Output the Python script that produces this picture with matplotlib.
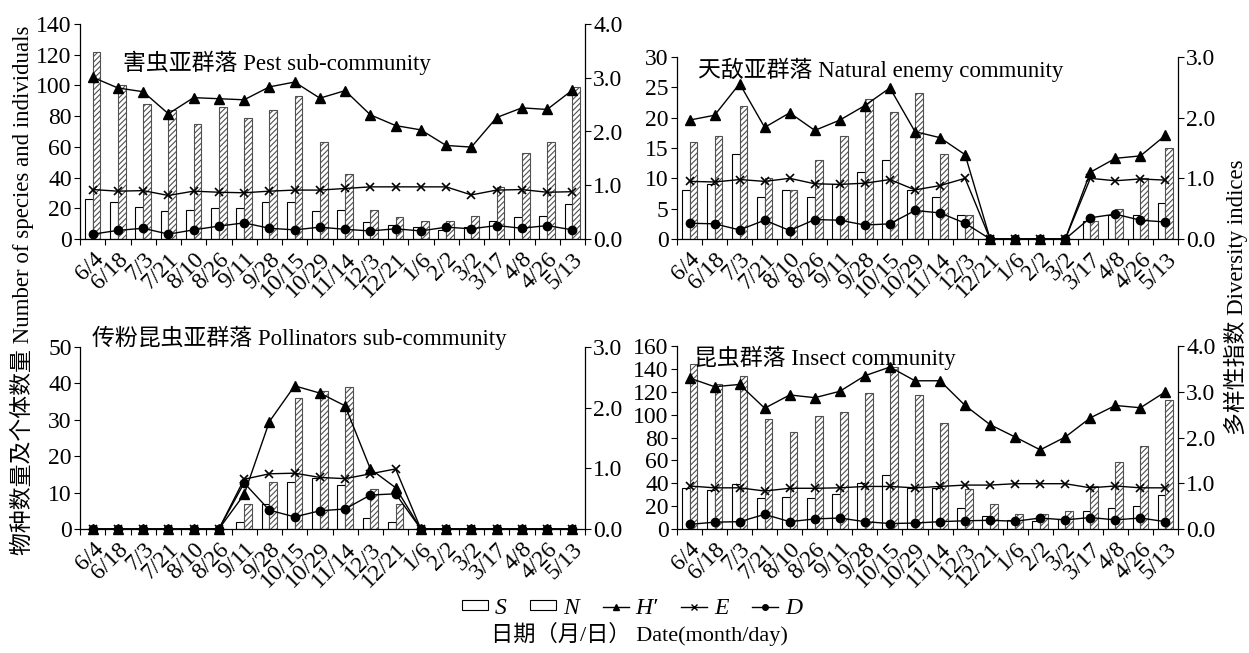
import matplotlib
matplotlib.use("Agg")
import matplotlib.pyplot as plt
import numpy as np
from matplotlib.patches import Patch
from matplotlib.lines import Line2D

plt.rcParams['font.family'] = ['Liberation Serif', 'Noto Sans CJK SC']
plt.rcParams['hatch.linewidth'] = 0.8
plt.rcParams['axes.unicode_minus'] = False

dates = ['6/4', '6/18', '7/3', '7/21', '8/10', '8/26', '9/11', '9/28', '10/15', '10/29',
         '11/14', '12/3', '12/21', '1/6', '2/2', '3/2', '3/17', '4/8', '4/26', '5/13']

pest_S = [26, 24, 21, 18, 19, 20, 20, 24, 24, 18, 19, 11, 9, 8, 6, 8, 12, 14, 15, 23]
pest_N = [122, 100, 88, 84, 75, 86, 79, 84, 93, 63, 42, 19, 14, 12, 12, 15, 34, 56, 63, 99]
pest_H = [3.01, 2.81, 2.74, 2.33, 2.63, 2.61, 2.59, 2.83, 2.92, 2.62, 2.76, 2.31, 2.11, 2.03, 1.74, 1.71, 2.26, 2.44, 2.41, 2.77]
pest_E = [0.92, 0.89, 0.90, 0.81, 0.89, 0.87, 0.86, 0.89, 0.91, 0.91, 0.94, 0.97, 0.97, 0.97, 0.97, 0.82, 0.91, 0.92, 0.87, 0.88]
pest_D = [0.09, 0.16, 0.20, 0.09, 0.17, 0.24, 0.30, 0.20, 0.17, 0.22, 0.18, 0.15, 0.19, 0.15, 0.22, 0.19, 0.25, 0.20, 0.25, 0.17]

ne_S = [8, 9, 14, 7, 8, 7, 9, 11, 13, 8, 7, 4, 0, 0, 0, 0, 3, 4, 4, 6]
ne_N = [16, 17, 22, 10, 8, 13, 17, 23, 21, 24, 14, 4, 0, 0, 0, 0, 3, 5, 10, 15]
ne_H = [1.96, 2.04, 2.56, 1.84, 2.08, 1.79, 1.96, 2.20, 2.49, 1.77, 1.67, 1.39, 0, 0, 0, 0, 1.10, 1.33, 1.37, 1.71]
ne_E = [0.95, 0.94, 0.98, 0.95, 1.00, 0.91, 0.90, 0.92, 0.98, 0.81, 0.88, 1.00, 0, 0, 0, 0, 1.00, 0.96, 0.99, 0.97]
ne_D = [0.26, 0.25, 0.15, 0.31, 0.14, 0.32, 0.31, 0.23, 0.25, 0.47, 0.43, 0.26, 0, 0, 0, 0, 0.35, 0.41, 0.31, 0.28]

po_S = [0, 0, 0, 0, 0, 0, 2, 7, 13, 14, 12, 3, 2, 0, 0, 0, 0, 0, 0, 0]
po_N = [0, 0, 0, 0, 0, 0, 7, 13, 36, 38, 39, 11, 7, 0, 0, 0, 0, 0, 0, 0]
po_H = [0, 0, 0, 0, 0, 0, 0.57, 1.77, 2.36, 2.24, 2.03, 0.99, 0.68, 0, 0, 0, 0, 0, 0, 0]
po_E = [0, 0, 0, 0, 0, 0, 0.82, 0.91, 0.92, 0.85, 0.83, 0.91, 0.99, 0, 0, 0, 0, 0, 0, 0]
po_D = [0, 0, 0, 0, 0, 0, 0.76, 0.31, 0.20, 0.30, 0.33, 0.56, 0.58, 0, 0, 0, 0, 0, 0, 0]

in_S = [36, 34, 39, 27, 28, 27, 31, 40, 47, 36, 36, 18, 11, 8, 7, 9, 16, 18, 20, 30]
in_N = [144, 127, 134, 96, 85, 99, 102, 119, 142, 117, 93, 35, 22, 13, 13, 16, 38, 59, 73, 113]
in_H = [3.30, 3.11, 3.16, 2.64, 2.93, 2.87, 3.01, 3.35, 3.54, 3.24, 3.24, 2.70, 2.28, 2.01, 1.73, 2.01, 2.43, 2.70, 2.65, 3.00]
in_E = [0.94, 0.90, 0.90, 0.83, 0.89, 0.89, 0.90, 0.93, 0.93, 0.90, 0.93, 0.96, 0.96, 0.99, 0.99, 0.99, 0.90, 0.94, 0.90, 0.90]
in_D = [0.10, 0.15, 0.16, 0.32, 0.16, 0.22, 0.24, 0.16, 0.12, 0.13, 0.16, 0.18, 0.19, 0.17, 0.24, 0.20, 0.25, 0.20, 0.24, 0.16]

W, H = 1249, 653
fig = plt.figure(figsize=(W / 100, H / 100), dpi=100)

def rect(l, r, t, b):
    return [l / W, 1 - b / H, (r - l) / W, (b - t) / H]

YTICK_FS = 17
XTICK_FS = 17
TITLE_FS = 16.5

def panel(pos, S, N, Hs, Es, Ds, lmax, lstep, rmax, title, tpos, tfs=TITLE_FS):
    ax = fig.add_axes(pos)
    x = np.arange(len(dates))
    w = 0.31
    ax.bar(x - w / 2, S, width=w, color='white', edgecolor='black', linewidth=0.8, zorder=2)
    ax.bar(x + w / 2, N, width=w, color='white', edgecolor='#505050', hatch='//////', linewidth=0.8, zorder=2)
    ax.set_xlim(-0.5, len(dates) - 0.5)
    ax.set_ylim(0, lmax)
    ticks = np.arange(0, lmax + 0.001, lstep)
    ax.set_yticks(ticks)
    ax.set_yticklabels([f"{int(v)}" for v in ticks])
    ax.set_xticks(x)
    ax.set_xticklabels(dates, rotation=45, ha='right', rotation_mode='anchor', fontsize=XTICK_FS)
    ax.set_xticks(np.arange(-0.5, len(dates), 1.0), minor=True)
    ax.tick_params(axis='x', which='major', length=0, pad=7)
    ax.tick_params(axis='x', which='minor', length=4, direction='out', width=0.8)
    ax.tick_params(axis='y', length=4, direction='out', width=0.8, labelsize=YTICK_FS, pad=2)
    for s in ['top', 'right']:
        ax.spines[s].set_visible(False)
    for s in ['left', 'bottom']:
        ax.spines[s].set_linewidth(0.9)
    ax2 = ax.twinx()
    ax2.set_ylim(0, rmax)
    rt = np.arange(0, rmax + 0.001, 1.0)
    ax2.set_yticks(rt)
    ax2.set_yticklabels([f"{v:.1f}" for v in rt])
    ax2.tick_params(axis='y', length=4, direction='out', width=0.8, labelsize=YTICK_FS, pad=2)
    for s in ['top', 'left', 'bottom']:
        ax2.spines[s].set_visible(False)
    ax2.spines['right'].set_linewidth(0.9)
    ax2.plot(x, Hs, color='black', lw=1, marker='^', ms=6.5, zorder=3, clip_on=False)
    ax2.plot(x, Es, color='black', lw=1, marker='x', ms=6, mew=1.2, zorder=3, clip_on=False)
    ax2.plot(x, Ds, color='black', lw=1, marker='o', ms=6, zorder=3, clip_on=False)
    fig.text(tpos[0] / W, 1 - tpos[1] / H, title, fontsize=tfs, ha='left', va='center')
    return ax, ax2

panel(rect(80, 585, 24, 239), pest_S, pest_N, pest_H, pest_E, pest_D, 140, 20, 4.0,
      '害虫亚群落 Pest sub-community', (123, 63))
panel(rect(677, 1178, 57, 239), ne_S, ne_N, ne_H, ne_E, ne_D, 30, 5, 3.0,
      '天敌亚群落 Natural enemy community', (698, 70))
panel(rect(80, 585, 347, 529), po_S, po_N, po_H, po_E, po_D, 50, 10, 3.0,
      '传粉昆虫亚群落 Pollinators sub-community', (92, 338))
panel(rect(677, 1178, 346, 529), in_S, in_N, in_H, in_E, in_D, 160, 20, 4.0,
      '昆虫群落 Insect community', (694, 358))

fig.text(22 / W, 1 - 290 / H, '物种数量及个体数量 Number of species and individuals',
         rotation=90, ha='center', va='center', fontsize=16.5)
fig.text(1236 / W, 1 - 297 / H, '多样性指数 Diversity indices',
         rotation=90, ha='center', va='center', fontsize=16.5)

handles = [
    Patch(facecolor='white', edgecolor='black', linewidth=0.8),
    Patch(facecolor='white', edgecolor='black', linewidth=0.8),
    Line2D([], [], color='black', lw=1, marker='^', ms=4),
    Line2D([], [], color='black', lw=1, marker='x', ms=4, mew=1),
    Line2D([], [], color='black', lw=1, marker='o', ms=4),
]
labels = ['S', 'N', "H\u2032", 'E', 'D']
leg = fig.legend(handles, labels, loc='center', bbox_to_anchor=(632 / W, 1 - 608 / H), ncol=5,
                 frameon=False, prop={'family': 'Liberation Serif', 'style': 'italic', 'size': 17},
                 handlelength=1.1, handleheight=0.25, handletextpad=0.3, columnspacing=1.0,
                 borderpad=0.1)
fig.text(639 / W, 1 - 634 / H, '日期（月/日） Date(month/day)', ha='center', va='center', fontsize=16)

fig.savefig('out.png', dpi=100)
